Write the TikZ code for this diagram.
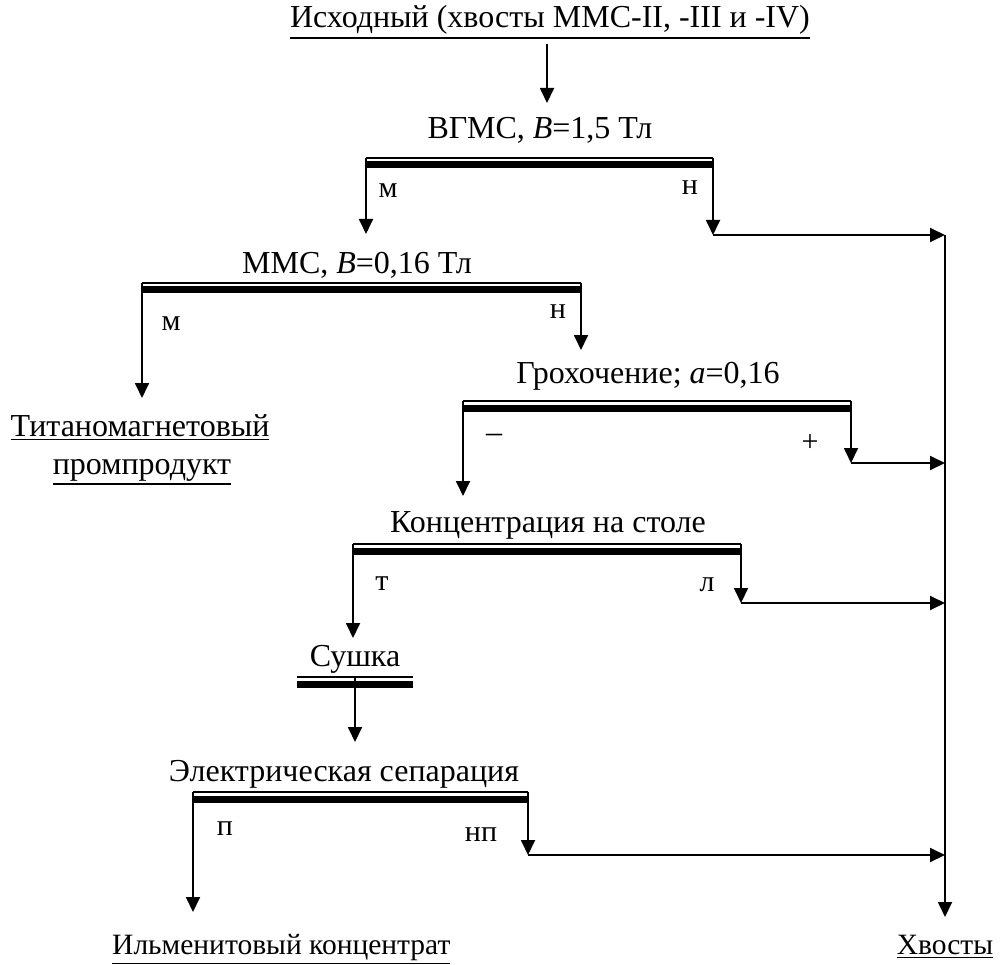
\documentclass[tikz,border=0pt]{standalone}
\usepackage{fontspec}
\setmainfont{Liberation Serif}
\usetikzlibrary{arrows.meta}
% underlined text with a rule of fixed weight
\newcommand\ul[1]{\setbox0\hbox{#1}\vtop{\copy0\kern2.5pt\hrule height 1.6pt width \wd0}}
% operation bar: thin rule over a heavy rule, ends named <name>L and <name>R
\newcommand\opbar[4]{%
  \coordinate (#1L) at (#2,#4);
  \coordinate (#1R) at (#3,#4);
  \draw[thinbar] (#1L) -- (#1R);
  \draw[thickbar] ([yshift=-7pt]#1L) -- ([yshift=-7pt]#1R);}
\begin{document}
\begin{tikzpicture}[x=1pt,y=-1pt,
  txt/.style={inner sep=0pt,anchor=base,font=\fontsize{32}{36}\selectfont},
  prod/.style={txt,font=\fontsize{29.5}{34}\selectfont},
  lbl/.style={inner sep=0pt,anchor=base,font=\fontsize{30}{34}\selectfont},
  flow/.style={line width=1.8pt,-{Triangle[length=15pt,width=14pt]}},
  thinbar/.style={line width=1.6pt},
  thickbar/.style={line width=7pt}]
\useasboundingbox (0,0) rectangle (1000,965);

% texts
\node[txt] (src) at (550,28) {\ul{Исходный (хвосты ММС-II, -III и -IV)}};
\node[txt] (vgms) at (540,139) {ВГМС, \textit{B}=1,5 Тл};
\node[txt] (mms) at (357,273) {ММС, \textit{B}=0,16 Тл};
\node[txt] (tit1) at (140,436) {\ul{Титаномагнетовый}};
\node[txt] (tit2) at (142,474) {\ul{промпродукт}};
\node[txt] (groh) at (648,383) {Грохочение; \textit{a}=0,16};
\node[txt] (konc) at (548,532) {Концентрация на столе};
\node[txt] (sush) at (355,666) {Сушка};
\node[txt] (elec) at (344,781) {Электрическая сепарация};
\node[prod,anchor=base west] (ilm) at (112,954) {\ul{Ильменитовый концентрат}};
\node[prod] (hv) at (945,954) {\ul{Хвосты}};

% product labels
\node[lbl] (l1m) at (388,198) {м};
\node[lbl] (l1n) at (690,195) {н};
\node[lbl] (l2m) at (171,330) {м};
\node[lbl] (l2n) at (558,318) {н};
\node[lbl,anchor=center,font=\fontsize{32}{36}\selectfont] (l3m) at (494,438) {–};
\node[lbl,anchor=center] (l3p) at (810,443) {+};
\node[lbl] (l4t) at (382,590) {т};
\node[lbl] (l4l) at (707,591) {л};
\node[lbl] (l6p) at (225,835) {п};
\node[lbl] (l6n) at (481,841) {нп};

% operation bars
\opbar{b1}{366}{713}{158}
\opbar{b2}{142}{581}{283}
\opbar{b3}{463}{851}{401}
\opbar{b4}{353}{741}{544}
\opbar{b5}{297}{413}{677}
\opbar{b6}{193}{528}{792}

% junctions and arrow tips
\coordinate (s0) at (547,44);
\coordinate (t0) at (547,103);
\coordinate (t1) at (366,234);
\coordinate (j1) at (713,235);
\coordinate (t2) at (142,398);
\coordinate (t2r) at (581,350);
\coordinate (t3) at (463,496);
\coordinate (j3) at (851,463);
\coordinate (t4) at (353,638);
\coordinate (j4) at (741,603);
\coordinate (s5) at (355,677);
\coordinate (t5) at (355,742);
\coordinate (t6) at (193,912);
\coordinate (j6) at (528,855);
\coordinate (c1) at (945,235);
\coordinate (c3) at (945,463);
\coordinate (c4) at (945,603);
\coordinate (c6) at (945,855);
\coordinate (ct) at (945,917);

% flows
\draw[flow] (s0) -- (t0);
\draw[flow] (b1L) -- (t1);
\draw[flow] (b1R) -- (j1);
\draw[flow] (b2L) -- (t2);
\draw[flow] (b2R) -- (t2r);
\draw[flow] (b3L) -- (t3);
\draw[flow] (b3R) -- (j3);
\draw[flow] (b4L) -- (t4);
\draw[flow] (b4R) -- (j4);
\draw[flow] (s5) -- (t5);
\draw[flow] (b6L) -- (t6);
\draw[flow] (b6R) -- (j6);

% tailings collector
\draw[flow] (j1) -- (c1);
\draw[flow] (j3) -- (c3);
\draw[flow] (j4) -- (c4);
\draw[flow] (j6) -- (c6);
\draw[flow] (c1) -- (ct);
\end{tikzpicture}
\end{document}
